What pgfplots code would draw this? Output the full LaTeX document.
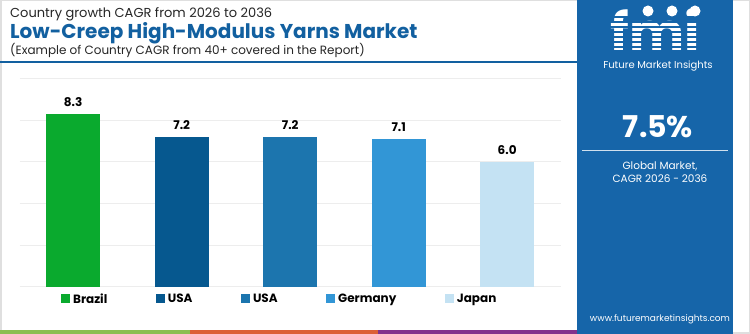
\documentclass[border=0pt]{standalone}
\usepackage{pgfplots}
\pgfplotsset{compat=1.18}
\usepackage{fontspec}
\setmainfont{Poppins}
\definecolor{cBrazil}{RGB}{10,170,46}
\definecolor{cUSA}{RGB}{6,88,143}
\definecolor{cUSAb}{RGB}{28,117,174}
\definecolor{cGermany}{RGB}{50,150,214}
\definecolor{cJapan}{RGB}{196,226,243}
\definecolor{panel}{RGB}{22,101,169}
\definecolor{titleblue}{RGB}{18,96,160}
\definecolor{sgreen}{RGB}{140,190,80}
\definecolor{sorange}{RGB}{220,95,55}
\definecolor{spurple}{RGB}{130,50,140}
\begin{document}
\begin{tikzpicture}[x=1pt,y=1pt]
\useasboundingbox (0,0) rectangle (750,334);
\fill[white] (0,0) rectangle (750,334);
\draw[gray!25, line width=1.5] (0.75,0.75) rectangle (749.25,333.25);
\fill[panel] (577,0) rectangle (733,334);
\fill[sgreen] (0,0) rectangle (190,4);
\fill[sorange] (190,0) rectangle (378,4);
\fill[spurple] (378,0) rectangle (577,4);
\draw[titleblue, line width=1.3] (0,272) -- (577,272);
% titles
\node[anchor=west, inner sep=0pt, text=black!85] at (10,320) {\fontsize{13}{13}\selectfont Country growth CAGR from 2026 to 2036};
\node[anchor=west, inner sep=0pt, text=titleblue] at (10,301) {\fontsize{20}{20}\selectfont\bfseries Low-Creep High-Modulus Yarns Market};
\node[anchor=west, inner sep=0pt, text=black!85] at (10,284) {\fontsize{12}{12}\selectfont (Example of Country CAGR from 40+ covered in the Report)};
% right panel
\node[text=white, inner sep=0pt] at (655,304.5) {\fontsize{52}{52}\selectfont\bfseries fmi};
\foreach \yy in {287,292,297,302,307,312,317} {\draw[panel, line width=1.1] (590,\yy) -- (725,\yy);}
\fill[white] (648,323) circle (5.5);
\fill[white] (672,323) circle (5.5);
\fill[white] (695,323) circle (5.5);
\node[text=white, inner sep=0pt] at (658,268) {\fontsize{10}{10}\selectfont Future Market Insights};
\node[text=white, inner sep=0pt] at (658,207) {\fontsize{30}{30}\selectfont\bfseries 7.5\%};
\draw[white!80!panel, line width=1] (582,183) -- (728,183);
\node[text=white, inner sep=0pt] at (660,168) {\fontsize{10.5}{10.5}\selectfont Global Market,};
\node[text=white, inner sep=0pt] at (660,155) {\fontsize{10.5}{10.5}\selectfont CAGR 2026 - 2036};
\node[text=white, inner sep=0pt] at (660,15) {\fontsize{9}{9}\selectfont www.futuremarketinsights.com};
\begin{axis}[
  at={(20pt,47.3pt)}, anchor=south west, scale only axis,
  width=541.4pt, height=208pt,
  xmin=-0.49, xmax=4.5, ymin=0, ymax=10,
  ytick={0,2,4,6,8,10}, yticklabels={}, xtick=\empty,
  ymajorgrids, grid style={black!7, line width=0.8},
  axis line style={draw=none}, major tick length=0pt,
  ybar, bar width=54pt, bar shift=0pt,
  nodes near coords={\pgfmathprintnumber[fixed,fixed zerofill,precision=1,assume math mode=true]{\pgfplotspointmeta}},
  nodes near coords style={font=\fontsize{12}{12}\selectfont\bfseries, text=black, yshift=4pt},
  legend columns=5,
  legend image code/.code={\fill[#1,draw=none] (0pt,-4.5pt) rectangle (9pt,4.5pt);},
  legend style={draw=none, fill=none, at={(0.07,-0.059)}, anchor=west,
    font=\fontsize{12}{12}\selectfont\bfseries,
    /tikz/every even column/.append style={column sep=46.5pt},
    /tikz/every odd column/.append style={column sep=1pt}},
]
\addplot[fill=cBrazil, draw=none] coordinates {(0,8.3)};
\addplot[fill=cUSA, draw=none] coordinates {(1,7.2)};
\addplot[fill=cUSAb, draw=none] coordinates {(2,7.2)};
\addplot[fill=cGermany, draw=none] coordinates {(3,7.1)};
\addplot[fill=cJapan, draw=none] coordinates {(4,6.0)};
\legend{Brazil, USA, USA, Germany, Japan}
\end{axis}
\end{tikzpicture}
\end{document}
